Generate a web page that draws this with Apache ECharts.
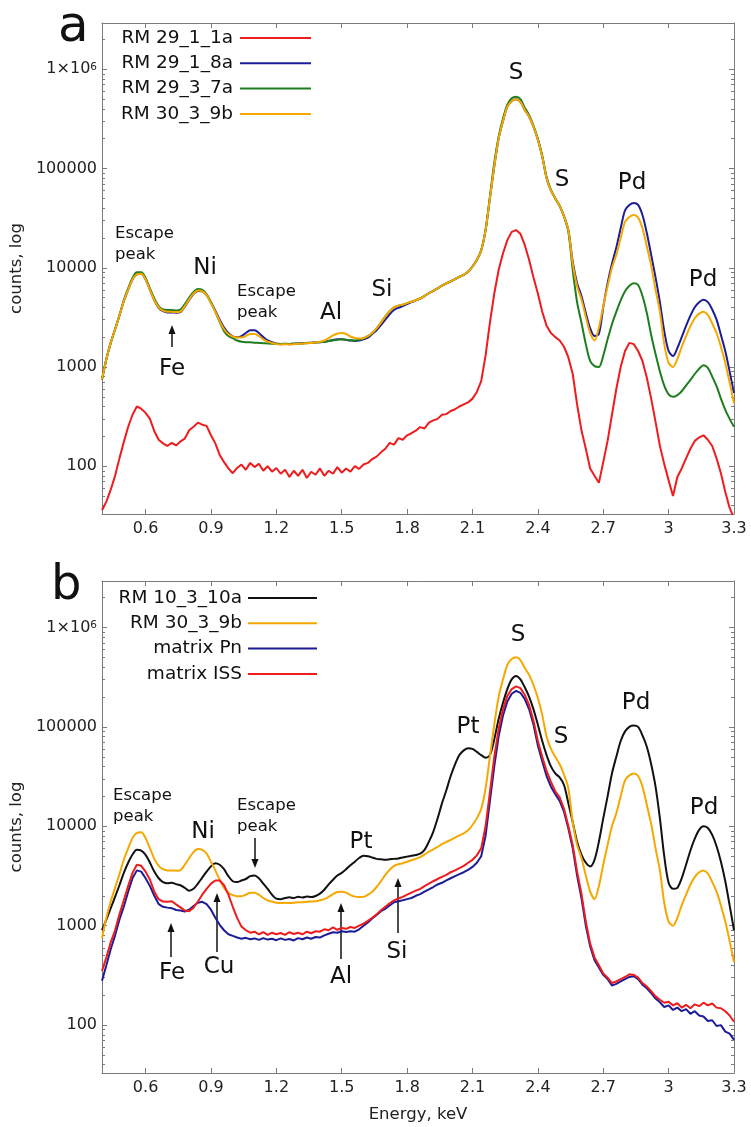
<!DOCTYPE html>
<html>
<head>
<meta charset="utf-8">
<script src="https://cdn.jsdelivr.net/npm/echarts@6/dist/echarts.min.js"></script>
<style>
  html, body { margin: 0; background: #fff; }
  #chart { width: 751px; height: 1127px; }
</style>
</head>
<body>
<div id="chart"></div>
<script>
// energy channels, keV
const energy = [0.40, 0.42, 0.44, 0.46, 0.48, 0.50, 0.52, 0.54, 0.56, 0.58,
  0.60, 0.62, 0.64, 0.66, 0.68, 0.70, 0.72, 0.74, 0.76, 0.78,
  0.80, 0.82, 0.84, 0.86, 0.88, 0.90, 0.92, 0.94, 0.96, 0.98,
  1.00, 1.02, 1.04, 1.06, 1.08, 1.10, 1.12, 1.14, 1.16, 1.18,
  1.20, 1.22, 1.24, 1.26, 1.28, 1.30, 1.32, 1.34, 1.36, 1.38,
  1.40, 1.42, 1.44, 1.46, 1.48, 1.50, 1.52, 1.54, 1.56, 1.58,
  1.60, 1.62, 1.64, 1.66, 1.68, 1.70, 1.72, 1.74, 1.76, 1.78,
  1.80, 1.82, 1.84, 1.86, 1.88, 1.90, 1.92, 1.94, 1.96, 1.98,
  2.00, 2.02, 2.04, 2.06, 2.08, 2.10, 2.12, 2.14, 2.16, 2.18,
  2.20, 2.22, 2.24, 2.26, 2.28, 2.30, 2.32, 2.34, 2.36, 2.38,
  2.40, 2.42, 2.44, 2.46, 2.48, 2.50, 2.52, 2.54, 2.56, 2.58,
  2.60, 2.62, 2.64, 2.66, 2.68, 2.70, 2.72, 2.74, 2.76, 2.78,
  2.80, 2.82, 2.84, 2.86, 2.88, 2.90, 2.92, 2.94, 2.96, 2.98,
  3.00, 3.02, 3.04, 3.06, 3.08, 3.10, 3.12, 3.14, 3.16, 3.18,
  3.20, 3.22, 3.24, 3.26, 3.28, 3.30];

// panel a, counts
const rm29_1_1a = [36, 44, 58, 80, 120, 175, 250, 330, 400, 380,
  345, 300, 225, 185, 170, 160, 172, 162, 178, 190,
  230, 250, 275, 262, 255, 205, 170, 130, 110, 95,
  85, 96, 104, 92, 108, 98, 106, 90, 100, 88,
  96, 84, 92, 78, 90, 80, 92, 76, 88, 82,
  95, 80, 90, 84, 98, 86, 95, 88, 100, 94,
  104, 108, 118, 125, 138, 150, 172, 165, 192, 185,
  205, 215, 228, 248, 240, 275, 290, 300, 330, 335,
  360, 375, 400, 420, 440, 480, 560, 720, 1300, 2800,
  5500, 9500, 14000, 19000, 23000, 24000, 22000, 17000, 12000, 8000,
  5500, 3600, 2600, 2200, 2000, 1850, 1600, 1250, 850, 420,
  230, 150, 95, 80, 68, 110, 180, 330, 600, 1000,
  1450, 1750, 1700, 1450, 1150, 780, 480, 280, 160, 105,
  72, 50, 78, 95, 120, 150, 180, 195, 205, 185,
  160, 120, 85, 55, 38, 30];
const rm29_1_8a = [750, 1200, 1750, 2400, 3300, 4600, 6000, 7600, 8600, 8700,
  7600, 6000, 4700, 3950, 3650, 3550, 3550, 3530, 3580, 4050,
  4750, 5450, 5850, 5800, 5300, 4450, 3700, 3000, 2500, 2200,
  2030, 2000, 2050, 2200, 2350, 2350, 2200, 2000, 1850, 1780,
  1720, 1700, 1710, 1700, 1720, 1730, 1740, 1750, 1760, 1770,
  1780, 1800, 1830, 1870, 1900, 1900, 1880, 1850, 1830, 1850,
  1900, 1980, 2150, 2350, 2650, 3000, 3400, 3750, 3950, 4100,
  4300, 4500, 4700, 4900, 5200, 5550, 5850, 6200, 6600, 6950,
  7300, 7700, 8100, 8500, 9100, 10300, 12000, 15000, 24000, 50000,
  105000, 200000, 300000, 420000, 480000, 500000, 470000, 390000, 333000, 263000,
  195000, 132000, 80000, 60000, 50000, 42000, 33000, 24000, 11500, 7000,
  5200, 3500, 2450, 2050, 2150, 4000, 7000, 11000, 16000, 25000,
  38000, 43000, 45000, 43000, 34000, 22400, 13500, 8000, 4500, 2300,
  1450, 1290, 1550, 2000, 2600, 3300, 4000, 4500, 4750, 4500,
  3800, 3000, 2100, 1450, 900, 545];
const rm29_3_7a = [750, 1200, 1750, 2400, 3300, 4700, 6200, 7900, 9000, 9000,
  7900, 6200, 4900, 4100, 3800, 3750, 3750, 3720, 3780, 4300,
  5000, 5700, 6100, 6000, 5400, 4500, 3600, 2850, 2300, 2050,
  1950, 1850, 1800, 1780, 1780, 1760, 1750, 1740, 1730, 1720,
  1720, 1710, 1720, 1710, 1720, 1730, 1730, 1740, 1750, 1760,
  1780, 1800, 1830, 1860, 1880, 1900, 1880, 1860, 1850, 1880,
  1950, 2050, 2200, 2450, 2800, 3240, 3650, 4000, 4150, 4250,
  4400, 4550, 4700, 4900, 5200, 5550, 5850, 6200, 6600, 6950,
  7300, 7700, 8100, 8500, 9100, 10300, 12000, 15000, 24000, 52000,
  115000, 210000, 320000, 440000, 510000, 530000, 500000, 410000, 345000, 270000,
  200000, 135000, 82000, 61000, 50000, 42000, 33000, 23000, 9500, 4500,
  2800, 1700, 1150, 1020, 1000, 1300, 1900, 2700, 3600, 4700,
  5800, 6600, 7000, 6700, 5200, 3500, 2100, 1350, 900, 650,
  530, 500, 520, 570, 650, 740, 850, 960, 1040, 980,
  800, 640, 480, 370, 300, 250];
const rm30_3_9b = [750, 1200, 1750, 2400, 3300, 4600, 6000, 7600, 8600, 8700,
  7600, 6000, 4700, 4000, 3700, 3600, 3600, 3580, 3620, 4100,
  4800, 5500, 5900, 5800, 5300, 4400, 3600, 2900, 2400, 2150,
  2030, 1980, 1980, 2050, 2150, 2150, 2050, 1900, 1800, 1750,
  1700, 1690, 1700, 1690, 1700, 1720, 1720, 1740, 1750, 1760,
  1800, 1850, 1950, 2080, 2180, 2200, 2150, 2030, 1960, 1940,
  1950, 2050, 2200, 2450, 2800, 3240, 3650, 4000, 4150, 4250,
  4400, 4550, 4700, 4900, 5200, 5550, 5850, 6200, 6600, 6950,
  7300, 7700, 8100, 8500, 9100, 10300, 12000, 15000, 24000, 50000,
  105000, 200000, 300000, 420000, 480000, 500000, 470000, 390000, 333000, 263000,
  195000, 132000, 80000, 60000, 50000, 42000, 33000, 24000, 11000, 6500,
  4800, 3200, 2200, 1850, 2500, 4100, 6500, 10000, 13500, 20000,
  29000, 32500, 34000, 32000, 25000, 16400, 10500, 6000, 3600, 1700,
  1100, 1000, 1200, 1600, 2050, 2580, 3100, 3450, 3600, 3350,
  2750, 2200, 1600, 1100, 700, 430];

// panel b, counts
const rm10_3_10a = [900, 1150, 1500, 1950, 2550, 3400, 4300, 5200, 5800, 5700,
  5150, 4300, 3500, 3000, 2750, 2670, 2700, 2620, 2550, 2400,
  2250, 2350, 2650, 3050, 3500, 3950, 4250, 4100, 3700, 3150,
  2800, 2750, 2850, 2950, 3150, 3200, 3000, 2650, 2350, 2050,
  1870, 1850, 1900, 1930, 1900, 1960, 1920, 1970, 1940, 1990,
  2100, 2300, 2600, 2900, 3200, 3400, 3700, 4050, 4400, 4800,
  5050, 5000, 4850, 4700, 4650, 4600, 4650, 4700, 4750, 4850,
  4950, 5050, 5150, 5300, 5800, 7000, 8800, 12000, 17000, 23000,
  32000, 42000, 52000, 58000, 61000, 60000, 56000, 52000, 49000, 52000,
  75000, 120000, 175000, 240000, 300000, 325000, 300000, 250000, 200000, 150000,
  105000, 72000, 52000, 40000, 34000, 31000, 26000, 17000, 11000, 7000,
  5200, 4300, 3950, 4600, 7000, 12000, 20000, 34000, 50000, 72000,
  90000, 100000, 103000, 100000, 82000, 63000, 42000, 25000, 12000, 5000,
  2700, 2350, 2400, 3000, 4100, 5700, 7500, 9200, 10000, 9600,
  8200, 6300, 4400, 2800, 1600, 900];
const matrixPn = [280, 400, 580, 800, 1150, 1550, 2200, 3000, 3600, 3500,
  3000, 2500, 2000, 1650, 1550, 1520, 1500, 1440, 1420, 1390,
  1450, 1580, 1700, 1740, 1650, 1450, 1200, 1020, 900, 820,
  790, 760, 740, 755, 730, 745, 720, 750, 725, 740,
  715, 745, 720, 735, 710, 750, 730, 760, 740, 770,
  760, 800, 830, 860, 850, 880, 865, 880, 870, 920,
  1000, 1080, 1180, 1280, 1400, 1480, 1600, 1720, 1760, 1800,
  1850, 1900, 2000, 2080, 2200, 2320, 2450, 2600, 2700, 2850,
  3000, 3150, 3300, 3450, 3650, 3900, 4300, 5000, 8000, 18000,
  40000, 80000, 130000, 180000, 215000, 230000, 220000, 190000, 150000, 105000,
  65000, 45000, 32000, 25000, 21000, 18000, 14000, 9500, 6000, 3200,
  1900, 1000, 620, 450, 380, 320, 290, 250, 260, 275,
  290, 305, 310, 290, 255, 235, 210, 185, 170, 152,
  158, 142, 150, 138, 145, 130, 138, 125, 122, 110,
  112, 98, 100, 86, 82, 71];
const matrixISS = [350, 480, 680, 900, 1300, 1800, 2500, 3400, 4100, 4000,
  3500, 2900, 2200, 1850, 1750, 1740, 1760, 1640, 1530, 1420,
  1400, 1520, 1750, 2050, 2350, 2650, 2850, 2850, 2550, 2050,
  1550, 1200, 980, 900, 850, 870, 820, 860, 810, 850,
  820, 845, 810, 860, 825, 850, 820, 870, 840, 880,
  870, 920, 900, 960, 910, 950, 930, 970, 950, 1000,
  1050, 1120, 1200, 1300, 1430, 1550, 1680, 1800, 1880, 1950,
  2050, 2150, 2250, 2350, 2500, 2650, 2800, 2950, 3100, 3250,
  3450, 3600, 3800, 4000, 4300, 4600, 5100, 6000, 10000, 22000,
  50000, 95000, 150000, 205000, 240000, 255000, 245000, 210000, 165000, 115000,
  72000, 50000, 36000, 28000, 22500, 19500, 15000, 10000, 6500, 3500,
  2100, 1100, 660, 480, 400, 330, 300, 265, 275, 290,
  305, 325, 320, 300, 265, 245, 220, 195, 180, 168,
  172, 158, 166, 150, 160, 148, 162, 155, 168, 158,
  165, 150, 148, 138, 125, 108];

const xTicks = [0.6, 0.9, 1.2, 1.5, 1.8, 2.1, 2.4, 2.7, 3.0, 3.3];
const yMin = 33, yMax = 2930000;

const FONT = "'DejaVu Sans', sans-serif";
const AXIS = "#7a7a7a";

const grids = [
  { left: 102, right: 17, top: 23, height: 491 },
  { left: 102, right: 17, top: 581, height: 492 },
];

const xAxes = [];
const yAxes = [];
grids.forEach((g, i) => {
  const common = {
    type: "value", gridIndex: i, min: 0.4, max: 3.3,
    axisLine: { show: true, onZero: false, lineStyle: { color: AXIS, width: 1 } },
    splitLine: { show: false },
  };
  xAxes.push({
    ...common, position: "bottom",
    name: i === 1 ? "Energy, keV" : "",
    nameLocation: "middle", nameGap: 33,
    nameTextStyle: { fontSize: 16.5, color: "#222", fontFamily: FONT },
    axisTick: { show: true, inside: true, length: 5, customValues: xTicks, lineStyle: { color: AXIS } },
    axisLabel: { customValues: xTicks, color: "#222", fontSize: 16, margin: 7, fontFamily: FONT },
  });
  xAxes.push({
    ...common, position: "top",
    axisTick: { show: true, inside: true, length: 5, customValues: xTicks, lineStyle: { color: AXIS } },
    axisLabel: { show: false },
  });
  const ycommon = {
    type: "log", logBase: 10, gridIndex: i, min: yMin, max: yMax,
    axisLine: { show: true, lineStyle: { color: AXIS, width: 1 } },
    axisTick: { show: true, inside: true, length: 5, lineStyle: { color: AXIS } },
    minorTick: { show: true, splitNumber: 9, length: 3, lineStyle: { color: AXIS } },
    splitLine: { show: false },
  };
  yAxes.push({
    ...ycommon, position: "left",
    name: "counts, log", nameLocation: "middle", nameGap: 70,
    nameTextStyle: { fontSize: 16.5, color: "#222", fontFamily: FONT },
    axisLabel: {
      color: "#222", fontSize: 16, margin: 5, fontFamily: FONT,
      formatter: (v) => {
        const l = Math.log10(v);
        if (Math.abs(l - Math.round(l)) > 1e-6) return "";
        const p = Math.round(l);
        if (p >= 6) return "1×10{s|" + p + "}";
        return String(Math.pow(10, p));
      },
      rich: { s: { fontSize: 10.5, verticalAlign: "top", color: "#222", fontFamily: FONT } },
    },
  });
  yAxes.push({ ...ycommon, position: "right", axisLabel: { show: false } });
});

const line = (name, ys, color, idx, smooth) => ({
  name, type: "line", xAxisIndex: idx * 2, yAxisIndex: idx * 2,
  data: energy.map((e, k) => [e, ys[k]]), showSymbol: false, smooth,
  lineStyle: { color, width: 2 }, itemStyle: { color }, silent: true, animation: false,
});

const RED = "#ee1c1c", BLUE = "#1c1c96", GREEN = "#1e7d1e", ORANGE = "#f5a800", BLACK = "#111111";

const series = [
  line("RM 29_1_1a", rm29_1_1a, RED, 0, false),
  line("RM 29_1_8a", rm29_1_8a, BLUE, 0, 0.3),
  line("RM 29_3_7a", rm29_3_7a, GREEN, 0, 0.3),
  line("RM 30_3_9b", rm30_3_9b, ORANGE, 0, 0.3),
  line("RM 10_3_10a", rm10_3_10a, BLACK, 1, 0.3),
  line("RM 30_3_9b ", rm30_3_9b, ORANGE, 1, 0.3),
  line("matrix Pn", matrixPn, BLUE, 1, false),
  line("matrix ISS", matrixISS, RED, 1, false),
];

// legends and annotations (pixel layout)
const graphic = [];
const txt = (text, x, y, size, align) => graphic.push({
  type: "text", x, y, silent: true,
  style: { text, fontSize: size, fontFamily: FONT, fill: "#111", align: align || "center", verticalAlign: "middle", lineHeight: size + 5 },
});
const arrow = (x, y0, y1) => {
  const dir = y1 < y0 ? 1 : -1;
  graphic.push({ type: "line", silent: true, shape: { x1: x, y1: y0, x2: x, y2: y1 + dir * 6 }, style: { stroke: "#111", lineWidth: 1.5 } });
  graphic.push({ type: "polygon", silent: true, shape: { points: [[x, y1], [x - 3.5, y1 + dir * 9], [x + 3.5, y1 + dir * 9]] }, style: { fill: "#111" } });
};
const legend = (items, textRight, x1, x2, y0) => items.forEach((it, i) => {
  const y = y0 + i * 25.3;
  txt(it[0], textRight, y, 18.5, "right");
  graphic.push({ type: "line", silent: true, shape: { x1, y1: y, x2, y2: y }, style: { stroke: it[1], lineWidth: 2 } });
});

legend([["RM 29_1_1a", RED], ["RM 29_1_8a", BLUE], ["RM 29_3_7a", GREEN], ["RM 30_3_9b", ORANGE]], 233, 240, 311, 38);
legend([["RM 10_3_10a", BLACK], ["RM 30_3_9b", ORANGE], ["matrix Pn", BLUE], ["matrix ISS", RED]], 242, 248, 317, 598);

graphic.push({ type: "text", x: 58, y: 53, silent: true, style: { text: "a", fontSize: 50, fontFamily: FONT, fill: "#111", verticalAlign: "bottom" } });
graphic.push({ type: "text", x: 51, y: 611, silent: true, style: { text: "b", fontSize: 48, fontFamily: FONT, fill: "#111", verticalAlign: "bottom" } });

// panel a
txt("Escape\npeak", 115, 244, 16.5, "left");
txt("Ni", 205, 268, 23);
txt("Escape\npeak", 237, 302, 16.5, "left");
txt("Al", 331, 313, 23);
txt("Si", 382, 290, 23);
txt("Fe", 172, 369, 23);
arrow(172, 347, 325);
txt("S", 516, 73, 23);
txt("S", 562, 180, 23);
txt("Pd", 632, 183, 23);
txt("Pd", 703, 280, 23);

// panel b
txt("Escape\npeak", 113, 806, 16.5, "left");
txt("Ni", 203, 832, 23);
txt("Escape\npeak", 237, 816, 16.5, "left");
arrow(255, 838, 868);
txt("Fe", 172, 973, 23);
arrow(171, 957, 923);
txt("Cu", 219, 967, 23);
arrow(217, 952, 893);
txt("Al", 341, 977, 23);
arrow(341, 959, 903);
txt("Pt", 361, 842, 23);
txt("Si", 397, 952, 23);
arrow(398, 933, 878);
txt("Pt", 468, 727, 23);
txt("S", 518, 635, 23);
txt("S", 561, 737, 23);
txt("Pd", 636, 703, 23);
txt("Pd", 704, 808, 23);

const chart = echarts.init(document.getElementById("chart"));
chart.setOption({
  backgroundColor: "#fff",
  animation: false,
  grid: grids,
  xAxis: xAxes,
  yAxis: yAxes,
  series,
  graphic,
});
</script>
</body>
</html>
